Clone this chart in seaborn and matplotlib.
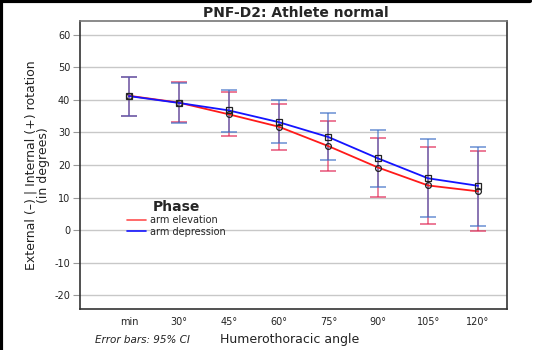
import matplotlib
matplotlib.use("Agg")
import matplotlib.pyplot as plt
import seaborn as sns
import pandas as pd
import numpy as np
from matplotlib.lines import Line2D

categories = ["min", "30°", "45°", "60°", "75°", "90°", "105°", "120°"]
elev_mean = [41.3, 39.2, 35.6, 31.8, 25.8, 19.2, 13.7, 11.9]
elev_lo = [35.1, 33.1, 28.8, 24.7, 18.1, 10.2, 2.0, -0.4]
elev_hi = [47.1, 45.4, 42.6, 38.8, 33.4, 28.4, 25.5, 24.2]
dep_mean = [41.2, 39.1, 36.8, 33.2, 28.6, 22.0, 15.9, 13.6]
dep_lo = [35.0, 32.9, 30.3, 26.9, 21.5, 13.2, 3.9, 1.2]
dep_hi = [47.0, 45.1, 43.0, 39.9, 36.0, 30.9, 28.0, 25.6]
series = ["arm elevation", "arm depression"]
yticks = [-20, -10, 0, 10, 20, 30, 40, 50, 60]

df = pd.DataFrame({
    "pos": list(range(len(categories))) * 2,
    "value": elev_mean + dep_mean,
    "Phase": [series[0]] * len(categories) + [series[1]] * len(categories),
})

sns.set_style("white")
plt.rcParams["font.family"] = ["DejaVu Sans"]

fig = plt.figure(figsize=(5.4, 3.5), dpi=100)
ax = fig.add_axes([80 / 540, 1 - 309 / 350, 427 / 540, 288 / 350])

line_colors = {series[0]: "#ff1a1a", series[1]: "#1414ff"}
bar_colors = {series[0]: "#e0204f", series[1]: "#3a6cc6"}

# error bars
x = np.arange(len(categories))
for name, m, lo, hi in [(series[0], elev_mean, elev_lo, elev_hi),
                        (series[1], dep_mean, dep_lo, dep_hi)]:
    m = np.array(m); lo = np.array(lo); hi = np.array(hi)
    ax.errorbar(x, m, yerr=[m - lo, hi - m], fmt="none",
                ecolor=bar_colors[name], alpha=0.6, elinewidth=1.3,
                capsize=5.5, capthick=1.4, zorder=2)

sns.lineplot(data=df, x="pos", y="value", hue="Phase", palette=line_colors,
             ax=ax, legend=False, linewidth=1.3, zorder=3, sort=False)

# markers
ax.plot(x, elev_mean, linestyle="none", marker="o", markersize=4.2,
        markerfacecolor="none", markeredgecolor="#222222", markeredgewidth=0.9, zorder=4)
ax.plot(x, dep_mean, linestyle="none", marker="s", markersize=4.2,
        markerfacecolor="none", markeredgecolor="#222222", markeredgewidth=0.9, zorder=4)

ax.set_xlim(-0.98, 7.58)
ax.set_ylim(-24.3, 64.3)
ax.set_yticks(yticks)
ax.set_yticklabels([str(v) for v in yticks], fontsize=7, color="#222222")
ax.set_xticks(x)
ax.set_xticklabels(categories, fontsize=7, color="#222222")
ax.tick_params(axis="y", which="both", direction="out", length=5, width=0.8,
               color="#999999", pad=2, left=True)
ax.tick_params(axis="x", length=0, pad=6)
ax.grid(axis="y", color="#c8c8c8", linewidth=1.0)
ax.set_axisbelow(True)
for s in ["left", "bottom", "right"]:
    ax.spines[s].set_color("#333333")
    ax.spines[s].set_linewidth(1.2)
ax.spines["top"].set_color("#777777")
ax.spines["top"].set_linewidth(1.2)

ax.set_xlabel("")
ax.set_ylabel("External (–) | Internal (+) rotation\n(in degrees)", fontsize=9,
              linespacing=1.0, labelpad=3, color="#222222")

fig.text(0.5 * (80 + 507) / 540 + 0.005, 1 - 13 / 350, "PNF-D2: Athlete normal",
         ha="center", va="center", fontsize=10, fontweight="bold")
fig.text(290 / 540, 1 - 340 / 350, "Humerothoracic angle", ha="center",
         va="center", fontsize=9, color="#222222")
fig.text(95 / 540, 1 - 340 / 350, "Error bars: 95% CI", ha="left",
         va="center", fontsize=7.5, style="italic", color="#222222")

handles = [Line2D([0], [0], color="#ff5050", lw=1.2),
           Line2D([0], [0], color="#1414ff", lw=1.2)]
leg = ax.legend(handles, series, title="Phase", loc="upper left",
                bbox_to_anchor=((120 - 80) / 427, (309 - 193) / 288),
                frameon=False, fontsize=7, handlelength=2.0, handletextpad=0.4,
                labelspacing=0.15, borderpad=0.2)
leg.get_title().set_fontweight("bold")
leg.get_title().set_fontsize(10)

# black frame lines on left and top of the figure
fig.add_artist(Line2D([0.002, 0.002], [0, 1], transform=fig.transFigure,
                      color="black", lw=3))
fig.add_artist(Line2D([0, 530 / 540], [0.996, 0.996], transform=fig.transFigure,
                      color="black", lw=3))

fig.savefig("out.png", dpi=100)
